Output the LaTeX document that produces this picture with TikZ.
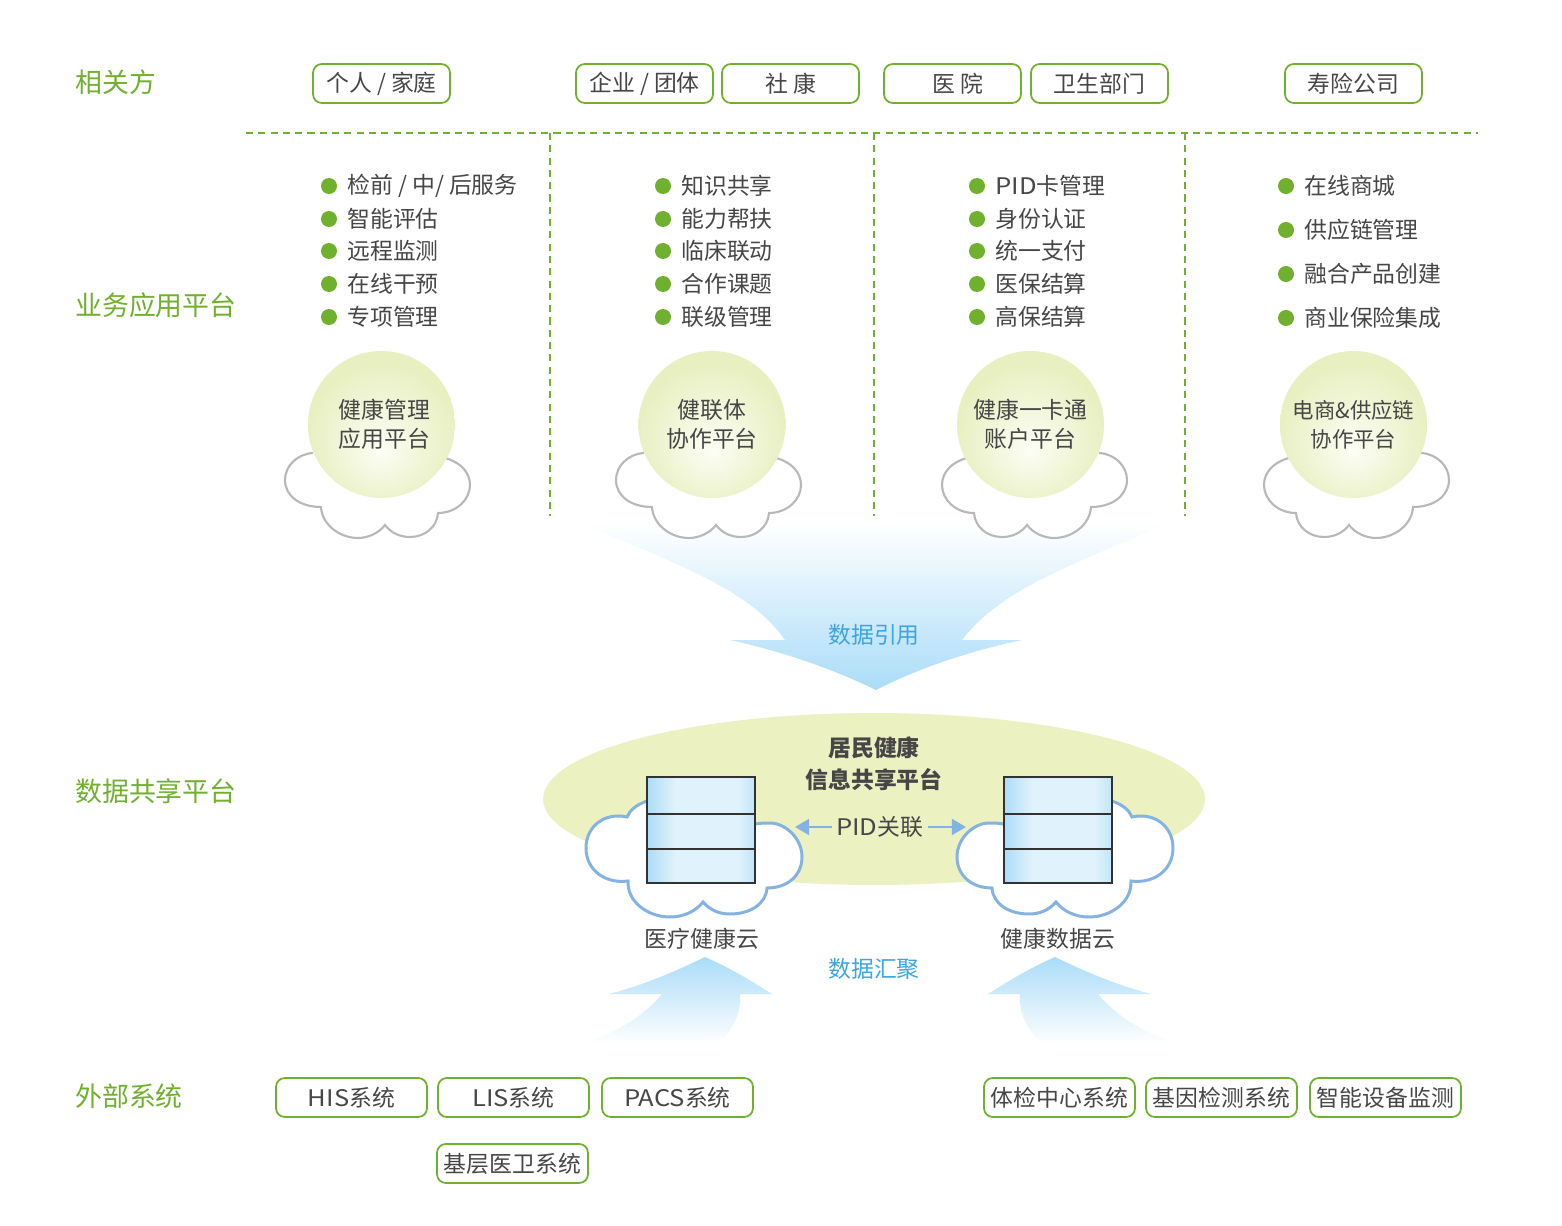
\documentclass[tikz,border=0pt]{standalone}
\usepackage{fontspec}
\setmainfont{Noto Sans CJK SC}
\newfontfamily\widelatin[FakeStretch=1.12]{Noto Sans CJK SC}
\usetikzlibrary{shapes, arrows.meta, positioning, calc}
\definecolor{leafgreen}{RGB}{111, 176, 46}
\definecolor{darktext}{RGB}{70, 70, 70}
\definecolor{skytext}{RGB}{62, 165, 224}
\definecolor{cloudgray}{RGB}{184, 184, 184}
\definecolor{cloudblue}{RGB}{133, 179, 225}
\definecolor{paleolive}{RGB}{236, 241, 194}
\definecolor{discedge}{RGB}{232, 240, 194}
\definecolor{disccore}{RGB}{252, 253, 245}
\definecolor{fadeblue}{RGB}{170, 220, 248}
\definecolor{dbedge}{RGB}{172, 221, 247}
\definecolor{dbrim}{RGB}{192, 229, 249}
\definecolor{dbcore}{RGB}{224, 242, 252}
\definecolor{dbframe}{RGB}{50, 50, 50}
\pgfdeclareradialshading{discglow}{\pgfpoint{0bp}{-9bp}}{color(0bp)=(disccore); color(25bp)=(discedge); color(50bp)=(discedge)}
\pgfdeclareverticalshading{arrowfade}{100bp}{color(0bp)=(fadeblue); color(25bp)=(fadeblue); color(75bp)=(white); color(100bp)=(white)}
\pgfdeclarehorizontalshading{dbfade}{100bp}{color(0bp)=(dbedge); color(25bp)=(dbedge); color(38bp)=(dbcore); color(67bp)=(dbcore); color(75bp)=(dbrim); color(100bp)=(dbrim)}
\tikzset{
  sidelabel/.style={anchor=west, inner sep=0pt, text=leafgreen, font=\fontsize{15.3}{18}\selectfont},
  pill/.style={draw=leafgreen, line width=1pt, rounded corners=5pt, text=darktext, inner sep=0pt, minimum height=0.78cm, font=\fontsize{13}{16}\selectfont},
  toppill/.style={pill, minimum width=2.74cm},
  lowpill/.style={pill, minimum width=3.02cm},
  dot/.style={circle, fill=leafgreen, inner sep=0pt, minimum size=0.32cm},
  item/.style={anchor=west, text=darktext, inner sep=0pt, yshift=-0.1pt, font=\fontsize{13}{16}\selectfont},
  disc/.style={circle, shade, shading=discglow, inner sep=0pt, minimum size=2.94cm},
  disctext/.style={text=darktext, align=center, font=\fontsize{13}{16.5}\selectfont},
  capt/.style={text=darktext, font=\fontsize{13}{16}\selectfont},
  flowtext/.style={text=skytext, font=\fontsize{13}{16}\selectfont},
  dashline/.style={leafgreen, line width=0.9pt, dash pattern=on 4pt off 3pt},
  pidarrow/.style={cloudblue, line width=1.4pt, -{Triangle[length=8pt, width=9pt]}},
  greycloud/.pic={
    \draw[cloudgray, line width=1.2pt, fill=white] (313,453) .. controls (297,454) and (285,466) .. (285,480)
      .. controls (285,496) and (300,507) .. (321,507)
      .. controls (322,525) and (340,538) .. (358,538)
      .. controls (368,538) and (379,533) .. (385,525)
      .. controls (391,533) and (400,537) .. (410,537)
      .. controls (425,537) and (437,527) .. (438,513)
      .. controls (456,513) and (470,500) .. (470,485)
      .. controls (470,472) and (460,462) .. (445,458);
  },
  bluecloud/.pic={
    \draw[cloudblue, line width=1.7pt, fill=white] (647,801) .. controls (636,805) and (630,810) .. (627,817)
      .. controls (605,812) and (586,826) .. (586,848)
      .. controls (586,870) and (605,884) .. (628,881)
      .. controls (627,902) and (648,917) .. (670,917)
      .. controls (684,917) and (696,911) .. (703,902)
      .. controls (710,910) and (719,914) .. (730,914)
      .. controls (750,914) and (766,904) .. (767,888)
      .. controls (788,888) and (802,875) .. (802,857)
      .. controls (802,838) and (785,823) .. (770,823)
      .. controls (765,823) and (760,823) .. (756,824);
  },
  dbstack/.pic={
    \shade[shading=dbfade] (647,777) rectangle (755,883);
    \draw[dbframe, line width=0.7pt] (647,777) rectangle (755,883);
    \draw[dbframe, line width=0.7pt] (647,814) -- (755,814);
    \draw[dbframe, line width=1.1pt] (647,849) -- (755,849);
  },
  uparrow/.pic={
    \shade[shading=arrowfade, shading angle=180] (705,957) .. controls (670,974) and (640,986) .. (609,994) -- (662,994)
      .. controls (640,1020) and (615,1032) .. (583,1044) -- (717,1044)
      .. controls (735,1028) and (741,1012) .. (740,994) -- (772,994)
      .. controls (750,980) and (730,968) .. (705,957) -- cycle;
  }
}
\begin{document}
\begin{tikzpicture}[x=0.02cm, y=-0.02cm]
  \useasboundingbox (0,0) rectangle (1562,1226);
  \fill[white] (0,0) rectangle (1562,1226);

  \node[sidelabel] (sideparty) at (75,82) {相关方};
  \node[sidelabel] (sideapp) at (75,305) {业务应用平台};
  \node[sidelabel] (sidedata) at (75,791) {数据共享平台};
  \node[sidelabel] (sideext) at (75,1096) {外部系统};

  \node[toppill] (family) at (381.5,83.5) {个人 / 家庭};
  \node[toppill] (firm) at (644.5,83.5) {企业 / 团体};
  \node[toppill] (community) at (790.5,83.5) {社 康};
  \node[toppill] (hospital) at (952.5,83.5) {\hspace*{0.2cm}医 院};
  \node[toppill] (healthdept) at (1099.5,83.5) {卫生部门};
  \node[toppill] (insurer) at (1353.5,83.5) {寿险公司};

  \draw[dashline] (246,133) -- (1478,133);
  \draw[dashline] (550,133) -- (550,516);
  \draw[dashline] (874,133) -- (874,516);
  \draw[dashline] (1185,133) -- (1185,516);

  \node[dot] (dota1) at (329,186) {};
  \node[dot] (dota2) at (329,219) {};
  \node[dot] (dota3) at (329,251) {};
  \node[dot] (dota4) at (329,284) {};
  \node[dot] (dota5) at (329,317) {};
  \node[item] (itema1) at (347,186) {检前 / 中/ 后服务};
  \node[item] (itema2) at (347,219) {智能评估};
  \node[item] (itema3) at (347,251) {远程监测};
  \node[item] (itema4) at (347,284) {在线干预};
  \node[item] (itema5) at (347,317) {专项管理};

  \node[dot] (dotb1) at (663,186) {};
  \node[dot] (dotb2) at (663,219) {};
  \node[dot] (dotb3) at (663,251) {};
  \node[dot] (dotb4) at (663,284) {};
  \node[dot] (dotb5) at (663,317) {};
  \node[item] (itemb1) at (681,186) {知识共享};
  \node[item] (itemb2) at (681,219) {能力帮扶};
  \node[item] (itemb3) at (681,251) {临床联动};
  \node[item] (itemb4) at (681,284) {合作课题};
  \node[item] (itemb5) at (681,317) {联级管理};

  \node[dot] (dotc1) at (977,186) {};
  \node[dot] (dotc2) at (977,219) {};
  \node[dot] (dotc3) at (977,251) {};
  \node[dot] (dotc4) at (977,284) {};
  \node[dot] (dotc5) at (977,317) {};
  \node[item] (itemc1) at (995,186) {{\widelatin PID}卡管理};
  \node[item] (itemc2) at (995,219) {身份认证};
  \node[item] (itemc3) at (995,251) {统一支付};
  \node[item] (itemc4) at (995,284) {医保结算};
  \node[item] (itemc5) at (995,317) {高保结算};

  \node[dot] (dotd1) at (1286,186) {};
  \node[dot] (dotd2) at (1286,230) {};
  \node[dot] (dotd3) at (1286,274) {};
  \node[dot] (dotd4) at (1286,318) {};
  \node[item] (itemd1) at (1304,186) {在线商城};
  \node[item] (itemd2) at (1304,230) {供应链管理};
  \node[item] (itemd3) at (1304,274) {融合产品创建};
  \node[item] (itemd4) at (1304,318) {商业保险集成};

  \shade[shading=arrowfade] (580,523) .. controls (680,565) and (750,590) .. (785,640) -- (730,640)
    .. controls (785,652) and (835,670) .. (876,690)
    .. controls (915,670) and (965,652) .. (1022,640) -- (962,640)
    .. controls (1000,590) and (1070,565) .. (1170,523) -- cycle;
  \node[flowtext] (quote) at (874,634.5) {数据引用};

  \pic at (0,0) {greycloud};
  \pic at (331,0) {greycloud};
  \pic[xscale=-1] at (1412,0) {greycloud};
  \pic[xscale=-1] at (1734,0) {greycloud};
  \node[disc] (disca) at (381.5,424.5) {};
  \node[disc] (discb) at (712,424.5) {};
  \node[disc] (discc) at (1030.5,424.5) {};
  \node[disc] (discd) at (1353.5,424.5) {};
  \node[disctext] (texta) at (384.5,424.5) {健康管理\\应用平台};
  \node[disctext] (textb) at (712,424.5) {健联体\\协作平台};
  \node[disctext] (textc) at (1030.5,424.5) {健康一卡通\\账户平台};
  \node[disctext, font=\fontsize{12.2}{16.5}\selectfont] (textd) at (1353.5,425) {电商\&供应链\\协作平台};

  \node[ellipse, fill=paleolive, inner sep=0pt, minimum width=13.24cm, minimum height=3.44cm] (shareplat) at (874,799) {};
  \node[text=darktext, align=center, font=\fontsize{13}{18.2}\bfseries\selectfont] (sharetitle) at (874,763.5) {居民健康\\信息共享平台};
  \pic at (0,0) {bluecloud};
  \pic[xscale=-1] at (1759,0) {bluecloud};
  \pic at (0,0) {dbstack};
  \pic at (357,0) {dbstack};
  \node[text=darktext, inner sep=0pt, font=\fontsize{13}{16}\selectfont] (pid) at (879.5,827) {{\widelatin PID}关联};
  \coordinate (pidleft) at (795,827);
  \coordinate (pidright) at (966,827);
  \draw[pidarrow] (pid.west) ++(-4,0) -- (pidleft);
  \draw[pidarrow] (pid.east) ++(5,0) -- (pidright);

  \node[capt] (medcloud) at (702,939) {医疗健康云};
  \node[capt] (datacloud) at (1058,939) {健康数据云};
  \node[flowtext] (gather) at (874,968.5) {数据汇聚};
  \pic at (0,0) {uparrow};
  \pic[xscale=-1] at (1760,0) {uparrow};

  \node[lowpill] (his) at (351.5,1097.5) {{\widelatin HIS}系统};
  \node[lowpill] (lis) at (513.5,1097.5) {{\widelatin LIS}系统};
  \node[lowpill] (pacs) at (677.5,1097.5) {{\widelatin PACS}系统};
  \node[lowpill] (basic) at (512.5,1163.5) {基层医卫系统};
  \node[lowpill] (checkup) at (1059.5,1097.5) {体检中心系统};
  \node[lowpill] (gene) at (1221.5,1097.5) {基因检测系统};
  \node[lowpill] (device) at (1385.5,1097.5) {智能设备监测};
\end{tikzpicture}
\end{document}
